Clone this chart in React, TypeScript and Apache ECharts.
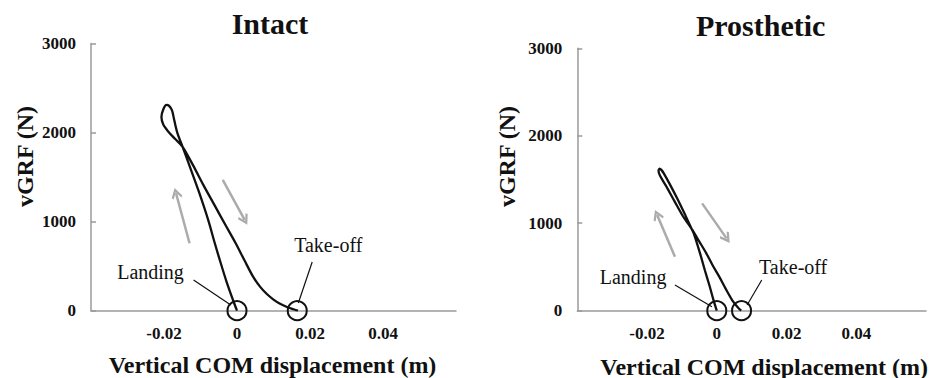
import React, { useEffect, useRef } from "react";
import * as echarts from "echarts";

// ---- Data ----
const TITLES = ["Intact", "Prosthetic"];
const X_AXIS_NAME = "Vertical COM displacement (m)";
const Y_AXIS_NAME = "vGRF (N)";

// Intact loop: [COM displacement (m), vGRF (N)]
const intactPath: number[][] = [
  [0, 0], [-0.0011, 120], [-0.0029, 330], [-0.0047, 567], [-0.0061, 760],
  [-0.0079, 1019], [-0.0104, 1330], [-0.0131, 1637], [-0.0149, 1840],
  [-0.0163, 1990], [-0.0172, 2140], [-0.0178, 2250], [-0.0186, 2300],
  [-0.0193, 2312], [-0.0201, 2270], [-0.0207, 2175], [-0.0202, 2090],
  [-0.0188, 2010], [-0.017, 1930], [-0.0149, 1840], [-0.0121, 1637],
  [-0.0092, 1410], [-0.0062, 1188], [-0.0032, 965], [-0.0004, 760],
  [0.002, 569], [0.0044, 382], [0.0063, 270], [0.0081, 190],
  [0.01, 125], [0.0118, 78], [0.0137, 42], [0.0155, 16], [0.0167, 0],
];

// Prosthetic loop
const prostheticPath: number[][] = [
  [0, 0], [-0.001, 130], [-0.002, 274], [-0.0034, 460], [-0.0048, 656],
  [-0.0066, 885], [-0.0072, 935], [-0.009, 1090], [-0.0113, 1280],
  [-0.0136, 1456], [-0.0152, 1570], [-0.0159, 1610], [-0.0164, 1625],
  [-0.0167, 1600], [-0.0163, 1545], [-0.0146, 1430], [-0.0121, 1250],
  [-0.0097, 1080], [-0.0072, 935], [-0.005, 790], [-0.003, 656],
  [-0.0012, 520], [0.0007, 389], [0.0025, 255], [0.0044, 122],
  [0.006, 40], [0.007, 0],
];

// Event points (landing, take-off)
const intactEvents: number[][] = [[0, 0], [0.0165, 0]];
const prostheticEvents: number[][] = [[0, 0], [0.0071, 0]];
const EVENT_NAMES = ["Landing", "Take-off"];

// Label anchor positions (data coords)
const intactLabelPos: number[][] = [[-0.0237, 435], [0.025, 738]];
const prostheticLabelPos: number[][] = [[-0.024, 389], [0.0219, 503]];

// Leader lines [from, to]
const intactLeaders: number[][][] = [
  [[-0.0119, 345], [-0.0017, 64]],
  [[0.0206, 547], [0.0168, 87]],
];
const prostheticLeaders: number[][][] = [
  [[-0.012, 294], [-0.0014, 46]],
  [[0.0129, 351], [0.0087, 65]],
];

// Direction arrows [tail, head]
const intactArrows: number[][][] = [
  [[-0.013, 757], [-0.0167, 1319]],
  [[-0.0039, 1469], [0.0021, 1019]],
];
const prostheticArrows: number[][][] = [
  [[-0.012, 617], [-0.0171, 1094]],
  [[-0.0042, 1227], [0.0028, 827]],
];

const X_MIN = -0.04;
const X_MAX = 0.06;
const X_STEP = 0.02;
const Y_MIN = 0;
const Y_MAX = 3000;
const Y_STEP = 1000;

const FONT = '"Liberation Serif", "Times New Roman", serif';
const AXIS_GREY = "#9a9a9a";
const ARROW_GREY = "#ababab";
const CHEVRON = "path://M50,0 L100,62 L86,74 L50,30 L14,74 L0,62 Z";

export default function App() {
  const ref = useRef<HTMLDivElement>(null);

  useEffect(() => {
    if (!ref.current) return;
    const chart = echarts.init(ref.current, null, { renderer: "svg" });

    const grids = [
      { left: 91, top: 43.5, width: 365, height: 267.2 },
      { left: 577.3, top: 48.3, width: 361.5, height: 262.4 },
    ];

    const xFmt = (v: number) => {
      if (Math.abs(v - X_MIN) < 1e-9 || Math.abs(v - X_MAX) < 1e-9) return "";
      if (Math.abs(v) < 1e-9) return "0";
      return v.toFixed(2);
    };

    const makeX = (i: number) => ({
      type: "value",
      gridIndex: i,
      min: X_MIN,
      max: X_MAX,
      interval: X_STEP,
      axisLine: { show: true, onZero: false, lineStyle: { color: AXIS_GREY, width: 1.5 } },
      axisTick: { show: false },
      splitLine: { show: false },
      axisLabel: {
        formatter: xFmt,
        margin: 14,
        color: "#111",
        fontFamily: FONT,
        fontWeight: "bold",
        fontSize: 17,
      },
    });
    const makeY = (i: number) => ({
      type: "value",
      gridIndex: i,
      min: Y_MIN,
      max: Y_MAX,
      interval: Y_STEP,
      axisLine: { show: true, onZero: false, lineStyle: { color: AXIS_GREY, width: 1.5 } },
      axisTick: { show: true, inside: true, length: 5, lineStyle: { color: AXIS_GREY, width: 1.5 } },
      splitLine: { show: false },
      axisLabel: {
        formatter: (v: number) => String(Math.round(v)),
        margin: 15,
        color: "#111",
        fontFamily: FONT,
        fontWeight: "bold",
        fontSize: 17,
      },
    });

    const paths = [intactPath, prostheticPath];
    const events = [intactEvents, prostheticEvents];
    const labelPos = [intactLabelPos, prostheticLabelPos];
    const leaders = [intactLeaders, prostheticLeaders];
    const arrows = [intactArrows, prostheticArrows];

    const series: any[] = [];
    for (let i = 0; i < 2; i++) {
      series.push({
        type: "lines",
        coordinateSystem: "cartesian2d",
        xAxisIndex: i,
        yAxisIndex: i,
        symbol: ["none", CHEVRON],
        symbolSize: [15, 11],
        lineStyle: { color: ARROW_GREY, width: 2.5, opacity: 1 },
        data: arrows[i].map((a) => ({ coords: a })),
        silent: true,
      });
      series.push({
        type: "line",
        xAxisIndex: i,
        yAxisIndex: i,
        data: paths[i],
        showSymbol: false,
        smooth: 0.3,
        lineStyle: { color: "#111", width: 2.3 },
        silent: true,
      });
      series.push({
        type: "lines",
        coordinateSystem: "cartesian2d",
        xAxisIndex: i,
        yAxisIndex: i,
        symbol: ["none", "none"],
        lineStyle: { color: "#111", width: 1.2, opacity: 1 },
        data: leaders[i].map((a) => ({ coords: a })),
        silent: true,
      });
      series.push({
        type: "scatter",
        xAxisIndex: i,
        yAxisIndex: i,
        data: events[i],
        symbol: "circle",
        symbolSize: 19,
        itemStyle: { color: "rgba(0,0,0,0)", borderColor: "#111", borderWidth: 2, opacity: 1 },
        silent: true,
        z: 5,
      });
      series.push({
        type: "scatter",
        xAxisIndex: i,
        yAxisIndex: i,
        data: labelPos[i].map((p, k) => ({ value: p, name: EVENT_NAMES[k] })),
        symbol: "circle",
        symbolSize: 1,
        itemStyle: { color: "rgba(0,0,0,0)", opacity: 1 },
        label: {
          show: true,
          position: "inside",
          formatter: "{b}",
          color: "#111",
          opacity: 1,
          textBorderWidth: 0,
          fontFamily: FONT,
          fontSize: 20,
        },
        silent: true,
      });
    }

    const graphic: any[] = [
      { type: "text", x: 270, y: 23, style: { text: TITLES[0], font: `bold 30px ${FONT}`, fill: "#111", textAlign: "center", textVerticalAlign: "middle" } },
      { type: "text", x: 760.7, y: 25, style: { text: TITLES[1], font: `bold 30px ${FONT}`, fill: "#111", textAlign: "center", textVerticalAlign: "middle" } },
      { type: "text", x: 272.5, y: 365, style: { text: X_AXIS_NAME, font: `bold 24px ${FONT}`, fill: "#111", textAlign: "center", textVerticalAlign: "middle" } },
      { type: "text", x: 928, y: 366.5, style: { text: X_AXIS_NAME, font: `bold 24px ${FONT}`, fill: "#111", textAlign: "right", textVerticalAlign: "middle" } },
      { type: "text", x: 25, y: 156.5, rotation: Math.PI / 2, style: { text: Y_AXIS_NAME, font: `bold 24px ${FONT}`, fill: "#111", textAlign: "center", textVerticalAlign: "middle" } },
      { type: "text", x: 507.3, y: 156.5, rotation: Math.PI / 2, style: { text: Y_AXIS_NAME, font: `bold 24px ${FONT}`, fill: "#111", textAlign: "center", textVerticalAlign: "middle" } },
    ];

    chart.setOption({
      animation: false,
      backgroundColor: "#ffffff",
      grid: grids,
      xAxis: [makeX(0), makeX(1)],
      yAxis: [makeY(0), makeY(1)],
      series,
      graphic,
    });

    return () => chart.dispose();
  }, []);

  return (
    <div
      ref={ref}
      style={{ position: "fixed", left: 0, top: 0, width: 929, height: 378, background: "#fff" }}
    />
  );
}
